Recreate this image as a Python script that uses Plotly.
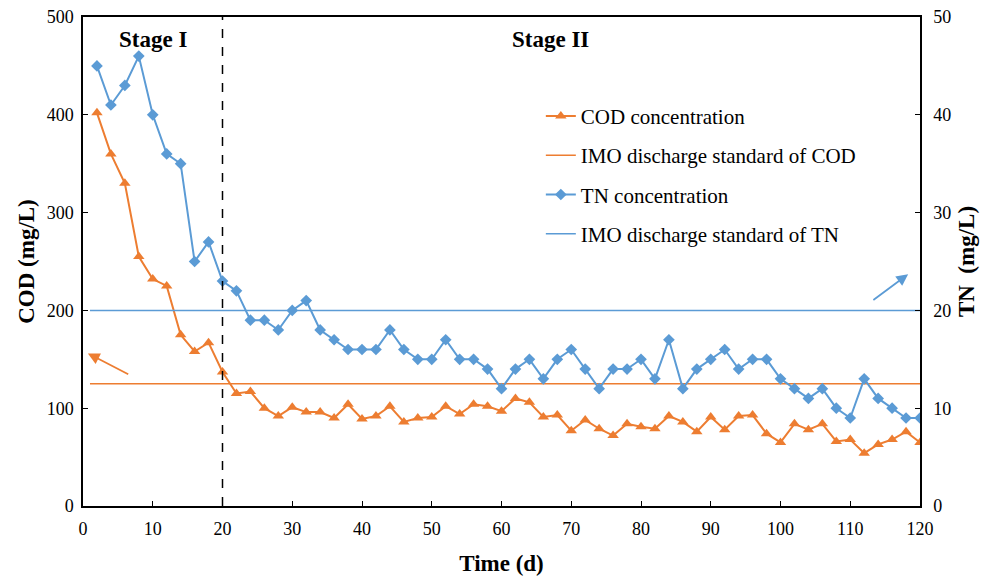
import plotly.graph_objects as go

days = list(range(2, 121, 2))
cod = [402, 360, 330, 255, 232, 225, 175, 158, 167, 137,
       115, 117, 100, 92, 101, 96, 96, 90, 104, 89,
       92, 102, 86, 90, 91, 102, 94, 104, 102, 97,
       110, 106, 91, 93, 77, 88, 79, 72, 84, 81,
       79, 92, 86, 76, 91, 78, 92, 93, 74, 65,
       84, 78, 84, 66, 68, 54, 63, 68, 76, 65]
tn = [45, 41, 43, 46, 40, 36, 35, 25, 27, 23,
      22, 19, 19, 18, 20, 21, 18, 17, 16, 16,
      16, 18, 16, 15, 15, 17, 15, 15, 14, 12,
      14, 15, 13, 15, 16, 14, 12, 14, 14, 15,
      13, 17, 12, 14, 15, 16, 14, 15, 15, 13,
      12, 11, 12, 10, 9, 13, 11, 10, 9, 9]
std_x = [1, 120]
cod_std = [125, 125]
tn_std = [20, 20]
stage_labels = ["Stage I", "Stage II"]
stage_x = [10, 67]

ORANGE = "#ED7D31"
BLUE = "#5B9BD5"
FONT = "Times New Roman, Liberation Serif, serif"

fig = go.Figure()
fig.add_trace(go.Scatter(x=days, y=cod, mode="lines+markers", name="COD concentration",
                         line=dict(color=ORANGE, width=2),
                         marker=dict(symbol="triangle-up", size=10, color=ORANGE),
                         legendgroup="a"))
fig.add_trace(go.Scatter(x=std_x, y=cod_std, mode="lines", name="IMO discharge standard of COD",
                         line=dict(color=ORANGE, width=1.5), legendgroup="b"))
fig.add_trace(go.Scatter(x=days, y=tn, mode="lines+markers", name="TN concentration",
                         line=dict(color=BLUE, width=2),
                         marker=dict(symbol="diamond", size=9, color=BLUE),
                         yaxis="y2", legendgroup="c"))
fig.add_trace(go.Scatter(x=std_x, y=tn_std, mode="lines", name="IMO discharge standard of TN",
                         line=dict(color=BLUE, width=1.5), yaxis="y2", legendgroup="d"))

fig.add_shape(type="line", x0=20, x1=20, y0=0, y1=500, xref="x", yref="y",
              line=dict(color="black", width=1.5, dash="dash"))

for lab, sx in zip(stage_labels, stage_x):
    fig.add_annotation(x=sx, y=477, xref="x", yref="y", text="<b>%s</b>" % lab,
                       showarrow=False, font=dict(family=FONT, size=23, color="black"))

fig.add_annotation(x=0.7, y=156, ax=6.7, ay=134, xref="x", yref="y", axref="x", ayref="y",
                   text="", showarrow=True, arrowhead=2, arrowsize=1.3, arrowwidth=1.8,
                   arrowcolor=ORANGE)
fig.add_annotation(x=118.3, y=237, ax=113.1, ay=209.6, xref="x", yref="y", axref="x", ayref="y",
                   text="", showarrow=True, arrowhead=2, arrowsize=1.3, arrowwidth=1.8,
                   arrowcolor=BLUE)

tickfont = dict(family=FONT, size=18, color="black")
fig.update_layout(
    width=995, height=577,
    margin=dict(l=83, r=75, t=17, b=71),
    paper_bgcolor="white", plot_bgcolor="white",
    font=dict(family=FONT, color="black"),
    showlegend=True,
    legend=dict(x=0.547, y=0.839, xanchor="left", yanchor="top",
                font=dict(family=FONT, size=21, color="black"),
                traceorder="grouped", tracegroupgap=9,
                bgcolor="rgba(0,0,0,0)"),
    xaxis=dict(range=[0, 120], dtick=10, tick0=0, showgrid=False, zeroline=False,
               showline=True, linecolor="black", linewidth=1.5, mirror=True,
               ticks="inside", ticklen=5, tickcolor="black", tickfont=tickfont,
               ticklabelstandoff=6, automargin=False,
               title=dict(text="<b>Time (d)</b>", font=dict(family=FONT, size=23), standoff=17)),
    yaxis=dict(range=[0, 500], dtick=100, showgrid=False, zeroline=False,
               showline=True, linecolor="black", linewidth=1.5,
               ticks="inside", ticklen=5, tickcolor="black", tickfont=tickfont,
               ticklabelstandoff=4, automargin=False,
               title=dict(text="<b>COD (mg/L)</b>", font=dict(family=FONT, size=23), standoff=6)),
    yaxis2=dict(range=[0, 50], dtick=10, overlaying="y", side="right", showgrid=False,
                zeroline=False, showline=True, linecolor="black", linewidth=1.5,
                ticks="inside", ticklen=5, tickcolor="black", tickfont=tickfont,
                ticklabelstandoff=8, automargin=False,
                title=dict(text="<b>TN  (mg/L)</b>", font=dict(family=FONT, size=23), standoff=8)),
)

fig.write_html("out.html")
